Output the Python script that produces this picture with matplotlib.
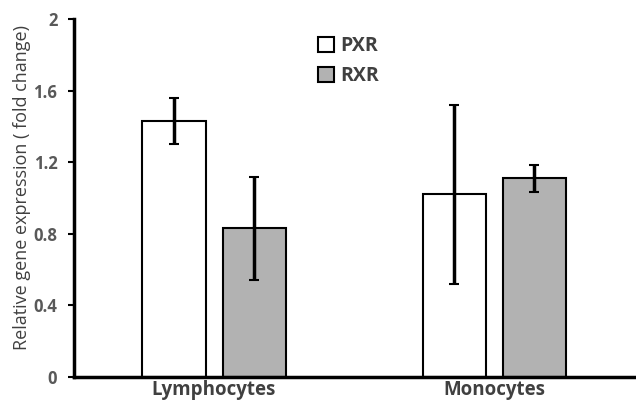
import matplotlib.pyplot as plt
import numpy as np

cells = ['Lymphocytes', 'Monocytes']
pxr = [1.43, 1.02]
pxr_err = [0.13, 0.50]
rxr = [0.83, 1.11]
rxr_err = [0.29, 0.075]

plt.rcParams['font.family'] = ['Open Sans', 'DejaVu Sans']
grey = '#595959'

fig = plt.figure(figsize=(6.36, 4.11), dpi=100)
ax = fig.add_axes([0.1164, 0.0827, 0.8806, 0.8711])

x = np.array([0.5, 1.5])
w = 0.225
off = 0.143
ax.bar(x - off, pxr, w, color='white', edgecolor='black', linewidth=1.5, label='PXR')
ax.bar(x + off, rxr, w, color='#b2b2b2', edgecolor='black', linewidth=1.5, label='RXR')
ax.errorbar(x - off, pxr, yerr=pxr_err, fmt='none', ecolor='black', elinewidth=2.5, capsize=3.5, capthick=1.5)
ax.errorbar(x + off, rxr, yerr=rxr_err, fmt='none', ecolor='black', elinewidth=2.5, capsize=3.5, capthick=1.5)

ax.set_xlim(0, 2)
ax.set_ylim(0, 2)
ax.set_yticks([0, 0.4, 0.8, 1.2, 1.6, 2])
ax.set_yticklabels(['0', '0.4', '0.8', '1.2', '1.6', '2'], fontsize=12, fontweight='bold', color=grey)
ax.set_xticks(x)
ax.set_xticklabels(cells, fontsize=13.5, fontweight='bold', color='#404040')
ax.tick_params(axis='x', length=0, pad=2)
ax.tick_params(axis='y', length=4, width=1.5, direction='out', pad=8)
for s in ['top', 'right']:
    ax.spines[s].set_visible(False)
for s in ['left', 'bottom']:
    ax.spines[s].set_linewidth(2.5)
ax.set_ylabel('Relative gene expression ( fold change)', fontsize=13, color='#404040')
ax.yaxis.set_label_coords(-0.076, 0.53)

leg = ax.legend(loc='upper left', bbox_to_anchor=(0.405, 1.0), frameon=False,
                handlelength=0.8, handleheight=0.8, handletextpad=0.35, labelspacing=0.5,
                prop={'size': 14, 'weight': 'bold'})
for t in leg.get_texts():
    t.set_color('#404040')

fig.savefig('out.png', dpi=100)
